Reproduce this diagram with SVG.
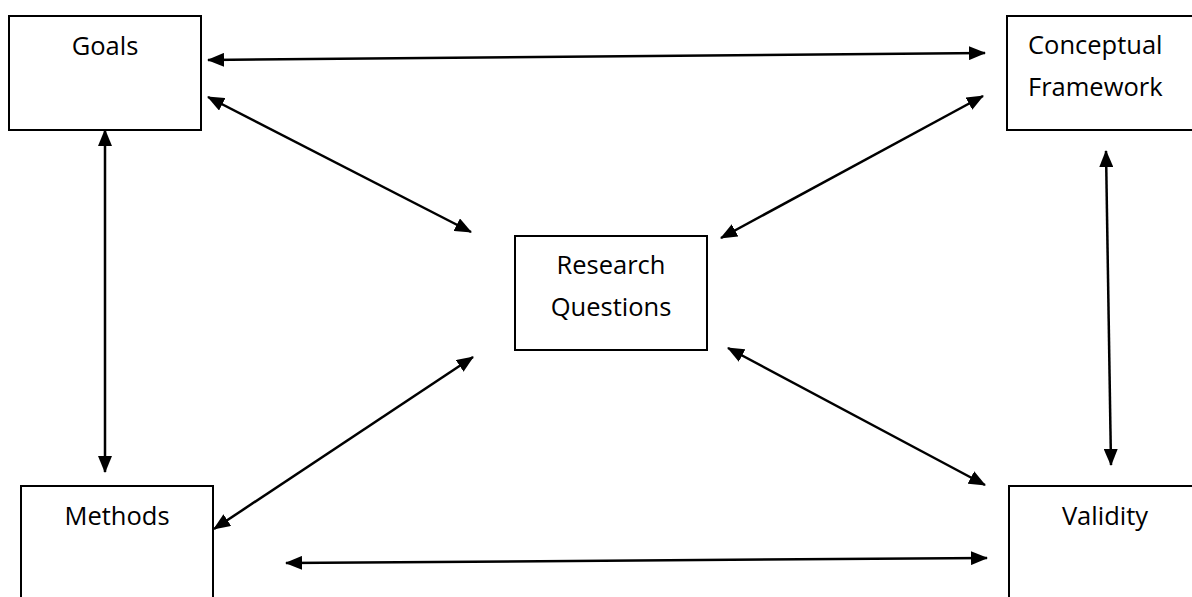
<svg xmlns="http://www.w3.org/2000/svg" width="1192" height="597" viewBox="0 0 1192 597">
  <style>
    .box { fill: #ffffff; stroke: #000000; stroke-width: 2; }
    .label { font-family: "Open Sans", "Liberation Sans", sans-serif; font-size: 25.5px; fill: #000000; }
    .mid { text-anchor: middle; }
    .link { stroke: #000000; stroke-width: 2.5; fill: none; marker-start: url(#head); marker-end: url(#head); }
  </style>
  <defs>
    <marker id="head" viewBox="0 0 17 14" refX="16" refY="7" markerUnits="userSpaceOnUse" markerWidth="17" markerHeight="14" orient="auto-start-reverse">
      <path d="M0,0 L17,7 L0,14 z" fill="#000000"/>
    </marker>
  </defs>
  <rect width="1192" height="597" fill="#ffffff"/>

  <g id="goals">
    <rect class="box" x="9" y="16" width="192" height="114"/>
    <text class="label mid" x="105" y="55">Goals</text>
  </g>

  <g id="conceptual-framework">
    <rect class="box" x="1007" y="16" width="192" height="114"/>
    <text class="label" x="1028" y="54">Conceptual</text>
    <text class="label" x="1028" y="96">Framework</text>
  </g>

  <g id="research-questions">
    <rect class="box" x="515" y="236" width="192" height="114"/>
    <text class="label mid" x="611" y="274">Research</text>
    <text class="label mid" x="611" y="316">Questions</text>
  </g>

  <g id="methods">
    <rect class="box" x="21" y="486" width="192" height="120"/>
    <text class="label mid" x="117" y="525">Methods</text>
  </g>

  <g id="validity">
    <rect class="box" x="1009" y="486" width="192" height="120"/>
    <text class="label mid" x="1105" y="525">Validity</text>
  </g>

  <g id="connectors">
    <line class="link" x1="208" y1="60" x2="985" y2="53"/>
    <line class="link" x1="208" y1="97" x2="471" y2="232"/>
    <line class="link" x1="983" y1="96" x2="721" y2="238"/>
    <line class="link" x1="105" y1="130" x2="105" y2="472"/>
    <line class="link" x1="1106" y1="151" x2="1111" y2="465"/>
    <line class="link" x1="214" y1="529" x2="473" y2="357"/>
    <line class="link" x1="728" y1="348" x2="985" y2="485"/>
    <line class="link" x1="286" y1="563" x2="987" y2="558"/>
  </g>
</svg>
